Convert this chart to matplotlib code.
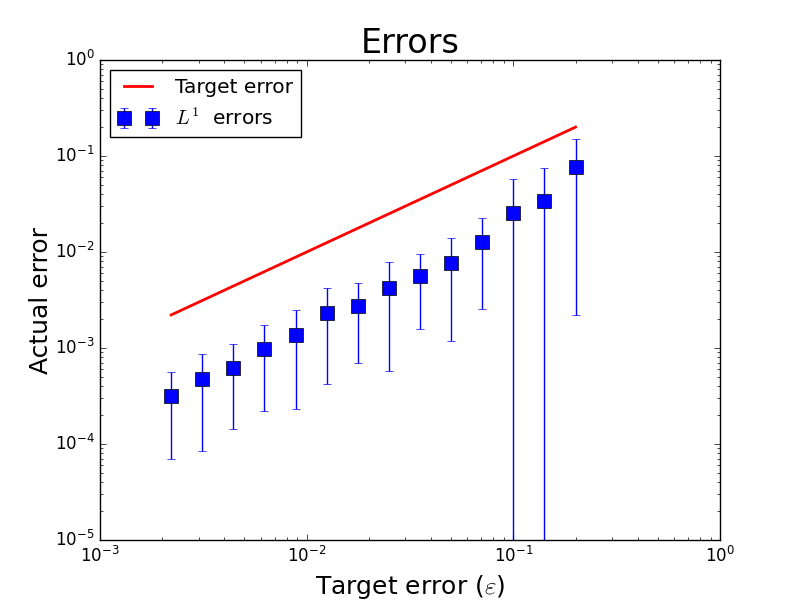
import numpy as np
import matplotlib
matplotlib.use("Agg")
import matplotlib.pyplot as plt

plt.style.use("classic")
plt.rcParams["mathtext.fontset"] = "cm"

# target error levels (x) and measured mean L1 error +/- std
eps = [0.00221, 0.003125, 0.00442, 0.00625, 0.00884, 0.0125, 0.01768,
       0.025, 0.03536, 0.05, 0.07071, 0.1, 0.1414, 0.2]
l1_mean = [3.14e-4, 4.72e-4, 6.17e-4, 9.72e-4, 1.356e-3, 2.30e-3, 2.74e-3,
           4.19e-3, 5.59e-3, 7.63e-3, 1.265e-2, 2.53e-2, 3.37e-2, 7.62e-2]
l1_std = [2.435e-4, 3.88e-4, 4.75e-4, 7.5e-4, 1.125e-3, 1.88e-3, 2.05e-3,
          3.62e-3, 4.0e-3, 6.46e-3, 1.01e-2, 3.27e-2, 4.08e-2, 7.4e-2]

fig = plt.figure(figsize=(8, 6), dpi=100)
ax = fig.add_subplot(111)

ax.plot(eps, eps, "r-", lw=2, label="Target error")
ax.errorbar(eps, l1_mean, yerr=l1_std, fmt="s", color="b", ecolor="b",
            ms=10, mec="k", mew=0.5, capsize=3, label=r"$L^1$  errors")

ax.set_xscale("log")
ax.set_yscale("log")
ax.set_xlim(1e-3, 1e0)
ax.set_ylim(1e-5, 1e0)

ax.set_title("Errors", fontsize=24)
ax.set_xlabel(r"Target error ($\varepsilon$)", fontsize=18)
ax.set_ylabel("Actual error", fontsize=18, labelpad=1.5)
ax.legend(loc="upper left", fontsize=14.5, numpoints=2)

fig.savefig("out.png", dpi=100)
